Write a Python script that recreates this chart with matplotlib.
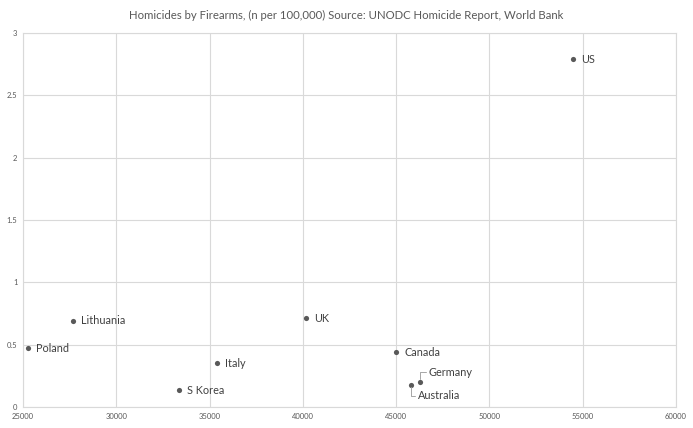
import matplotlib.pyplot as plt
from matplotlib.ticker import FuncFormatter

# GDP per capita (x) vs firearm homicides per 100,000 (y)
countries = ["US", "Lithuania", "Poland", "UK", "Italy", "S Korea", "Canada", "Germany", "Australia"]
gdp = [54480, 27680, 25270, 40170, 35400, 33360, 45000, 46280, 45800]
homicides = [2.79, 0.69, 0.47, 0.71, 0.35, 0.135, 0.44, 0.20, 0.18]

# label offsets in points (dx, dy)
offsets = {"Germany": (6, 7), "Australia": (5, -8)}
leaders = {"Germany", "Australia"}

plt.rcParams['font.family'] = ['Lato', 'DejaVu Sans']

fig = plt.figure(figsize=(6.93, 4.28), dpi=100)
ax = fig.add_axes([23 / 693, 1 - 407 / 428, (676 - 23) / 693, (407 - 33) / 428])

ax.scatter(gdp, homicides, s=14, color="#595959", zorder=3, linewidths=0)

for name, x, y in zip(countries, gdp, homicides):
    dx, dy = offsets.get(name, (6, 0))
    if name in leaders:
        ax.annotate(name, (x, y), xytext=(dx, dy), textcoords="offset points",
                    fontsize=7.8, color="#404040", va="center", ha="left",
                    arrowprops=dict(arrowstyle="-", color="#a6a6a6", lw=0.7,
                                    shrinkA=0, shrinkB=2,
                                    connectionstyle="angle,angleA=0,angleB=90,rad=0"))
    else:
        ax.annotate(name, (x, y), xytext=(dx, dy), textcoords="offset points",
                    fontsize=7.8, color="#404040", va="center", ha="left")

ax.set_xlim(25000, 60000)
ax.set_ylim(0, 3)
ax.set_xticks(range(25000, 60001, 5000))
ax.set_yticks([0, 0.5, 1, 1.5, 2, 2.5, 3])
ax.yaxis.set_major_formatter(FuncFormatter(lambda v, p: f"{v:g}"))
ax.tick_params(length=0, labelsize=5.5, colors="#595959", pad=4)
ax.grid(True, color="#d9d9d9", lw=0.8)
ax.set_axisbelow(True)
for s in ax.spines.values():
    s.set_color("#d9d9d9")
    s.set_linewidth(0.8)

fig.text(0.5, 1 - 15 / 428, "Homicides by Firearms, (n per 100,000) Source: UNODC Homicide Report, World Bank",
         ha="center", va="center", fontsize=8.2, color="#595959")

fig.savefig("out.png", dpi=100)
